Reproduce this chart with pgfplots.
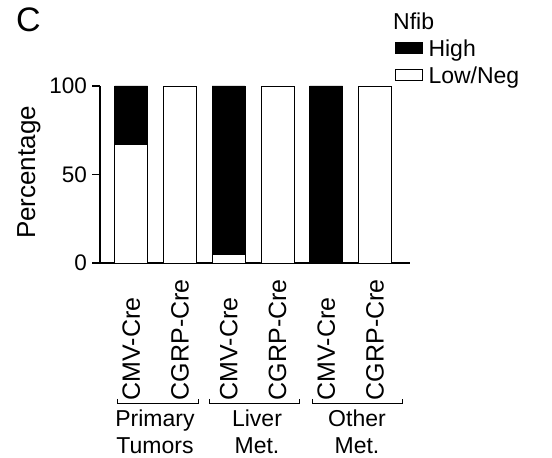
\documentclass[border=0pt]{standalone}
\usepackage{pgfplots}
\pgfplotsset{compat=1.18}
\usepackage{fontspec}
\setmainfont{Liberation Sans}
\begin{document}
\begin{tikzpicture}[font=\fontsize{23}{27}\selectfont, x=1pt, y=1pt]
\path[use as bounding box] (0,0) rectangle (552,458);
\begin{axis}[
  at={(100pt,195pt)}, anchor=south west,
  scale only axis, width=310pt, height=177pt,
  xmin=-0.64, xmax=5.72, ymin=0, ymax=100,
  clip=false,
  axis x line*=bottom, axis y line*=left,
  axis line style={line width=1.4pt, -},
  ybar stacked, bar width=33pt,
  xtick={0,1,2,3,4,5},
  xticklabels={\makebox[129pt][l]{CMV-Cre},\makebox[129pt][l]{CGRP-Cre},\makebox[129pt][l]{CMV-Cre},\makebox[129pt][l]{CGRP-Cre},\makebox[129pt][l]{CMV-Cre},\makebox[129pt][l]{CGRP-Cre}},
  xticklabel style={rotate=90, anchor=east, inner sep=0pt, font=\fontsize{25}{29}\selectfont},
  x tick style={draw=none},
  ytick={0,50,100},
  y tick style={line width=1.4pt, black},
  tick align=outside, major tick length=8pt,
  yticklabel style={inner sep=0pt, anchor=east, xshift=-5pt, font=\fontsize{22.5}{27}\selectfont},
  /pgf/number format/assume math mode=true,
  reverse legend,
  legend cell align=left,
  legend style={draw=none, fill=none, at={(0.9516,1.2616)}, anchor=north west, inner sep=0pt, row sep=5pt, column sep=6pt,
    nodes={inner sep=0pt, text height=17pt, text depth=5pt}},
  legend image code/.code={\draw[#1, line width=0.8pt] (0pt,-2.3pt) rectangle (26.5pt,8.2pt);},
]
\addplot[fill=white, draw=black, line width=0.8pt] coordinates {(0,67) (1,100) (2,5) (3,100) (4,0) (5,100)};
\addlegendentry{Low/Neg}
\addplot[fill=black, draw=black, line width=0.8pt] coordinates {(0,33) (1,0) (2,95) (3,0) (4,100) (5,0)};
\addlegendentry{High}
\end{axis}
% group brackets (image y -> tikz y = 458 - y)
\draw[line width=0.8pt] (117,59) -- (117,55) -- (198,55) -- (198,59);
\draw[line width=0.8pt] (209,59) -- (209,55) -- (299,55) -- (299,59);
\draw[line width=0.8pt] (312,59) -- (312,55) -- (402,55) -- (402,59);
\node[anchor=base] at (155,31) {Primary};
\node[anchor=base] at (155,4) {Tumors};
\node[anchor=base] at (257,31) {Liver};
\node[anchor=base] at (257,4) {Met.};
\node[anchor=base] at (357,31) {Other};
\node[anchor=base] at (357,4) {Met.};
\node[rotate=90, anchor=base, font=\fontsize{26}{30}\selectfont] at (35,285.5) {Percentage};
\node[anchor=base west, inner sep=0pt] at (393,428.7) {Nfib};
\node[anchor=base west, inner sep=0pt, font=\fontsize{34}{40}\selectfont] at (16,426) {C};
\end{tikzpicture}
\end{document}
